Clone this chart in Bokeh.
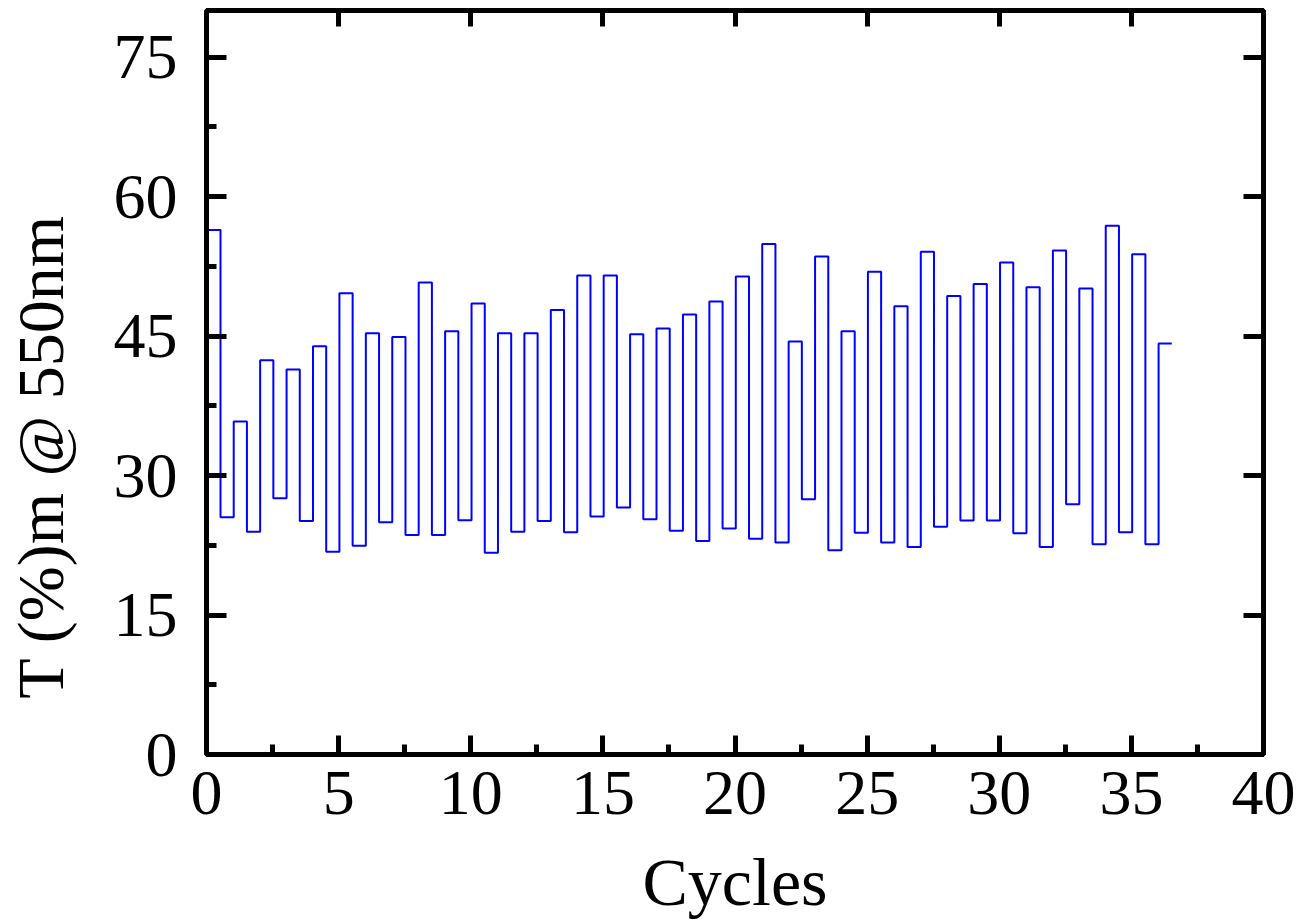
from bokeh.plotting import figure
from bokeh.models import LinearAxis, FixedTicker, Range1d
from bokeh.embed import file_html
from bokeh.resources import INLINE

# Transmittance maxima (bleached) and minima (coloured)
highs = [56.4, 35.8, 42.4, 41.4, 43.9, 49.6, 45.3, 44.9, 50.75, 45.5,
         48.5, 45.3, 45.3, 47.8, 51.5, 51.5, 45.2, 45.8, 47.3, 48.7,
         51.4, 54.9, 44.4, 53.55, 45.5, 51.9, 48.2, 54.05, 49.3, 50.6,
         52.9, 50.25, 54.2, 50.1, 56.85, 53.8, 44.2]
lows = [25.5, 23.95, 27.55, 25.1, 21.8, 22.45, 24.96, 23.6, 23.6, 25.2,
        21.7, 23.95, 25.1, 23.9, 25.6, 26.55, 25.3, 24.06, 22.95, 24.3,
        23.2, 22.8, 27.45, 21.95, 23.85, 22.8, 22.3, 24.5, 25.15, 25.15,
        23.8, 22.3, 26.9, 22.6, 23.9, 22.6]
first_switch = 0.53   # cycle at which the first switch happens
half_cycle = 0.5      # duration of each state (cycles)

x_ticks = [0, 5, 10, 15, 20, 25, 30, 35, 40]
x_minor = [2.5, 7.5, 12.5, 17.5, 22.5, 27.5, 32.5, 37.5]
top_ticks = [5, 10, 15, 20, 25, 30, 35]
y_ticks = [0, 15, 30, 45, 60, 75]
y_minor = [7.5, 22.5, 37.5, 52.5, 67.5]

y_title = "T (%)m @ 550nm"
x_title = "Cycles"

# Build the step trace
values = []
for i in range(len(highs)):
    values.append(highs[i])
    if i < len(lows):
        values.append(lows[i])
bounds = [0.0] + [first_switch + k * half_cycle for k in range(len(values))]
xs, ys = [], []
for k, v in enumerate(values):
    xs += [bounds[k], bounds[k + 1]]
    ys += [v, v]

FONT = "Liberation Serif"

p = figure(width=1298, height=922, output_backend="svg", toolbar_location=None,
           x_range=Range1d(0, 40), y_range=Range1d(0, 80),
           min_border_left=205, min_border_top=10, min_border_right=35,
           min_border_bottom=150)
p.xgrid.visible = False
p.ygrid.visible = False
p.outline_line_color = "black"
p.outline_line_width = 5
p.background_fill_color = "white"
p.border_fill_color = "white"

p.line(xs, ys, line_color="#0000FF", line_width=2)

def style(ax, labels=True):
    ax.axis_line_color = "black"
    ax.axis_line_width = 5
    ax.major_tick_line_color = "black"
    ax.major_tick_line_width = 5
    ax.minor_tick_line_color = "black"
    ax.minor_tick_line_width = 5
    ax.major_tick_out = 0
    ax.minor_tick_out = 0
    ax.major_label_text_font = FONT
    ax.major_label_text_color = "black"
    ax.axis_label_text_font = FONT
    ax.axis_label_text_font_style = "normal"
    ax.axis_label_text_color = "black"
    if not labels:
        ax.major_label_text_color = None
        ax.major_label_text_font_size = "1px"
        ax.major_label_standoff = 0

xa = p.xaxis[0]
style(xa)
xa.ticker = FixedTicker(ticks=x_ticks, minor_ticks=x_minor)
xa.major_tick_in = 19
xa.minor_tick_in = 10
xa.major_label_text_font_size = "64px"
xa.major_label_standoff = 17
xa.axis_label = x_title
xa.axis_label_text_font_size = "68px"
xa.axis_label_standoff = 27

ya = p.yaxis[0]
style(ya)
ya.ticker = FixedTicker(ticks=y_ticks, minor_ticks=y_minor)
ya.major_tick_in = 20
ya.minor_tick_in = 10
ya.major_label_text_font_size = "64px"
ya.major_label_standoff = 29
# trailing no-break spaces push the centred title downwards, as in the original
ya.axis_label = y_title + "\u00a0" * 9
ya.axis_label_text_font_size = "66px"
ya.axis_label_standoff = 34

top = LinearAxis(ticker=FixedTicker(ticks=top_ticks, minor_ticks=[]))
style(top, labels=False)
top.major_tick_in = 16
top.minor_tick_line_color = None
p.add_layout(top, "above")

right = LinearAxis(ticker=FixedTicker(ticks=y_ticks, minor_ticks=[]))
style(right, labels=False)
right.major_tick_in = 20
right.minor_tick_line_color = None
p.add_layout(right, "right")

open("out.html", "w").write(file_html(p, INLINE))
